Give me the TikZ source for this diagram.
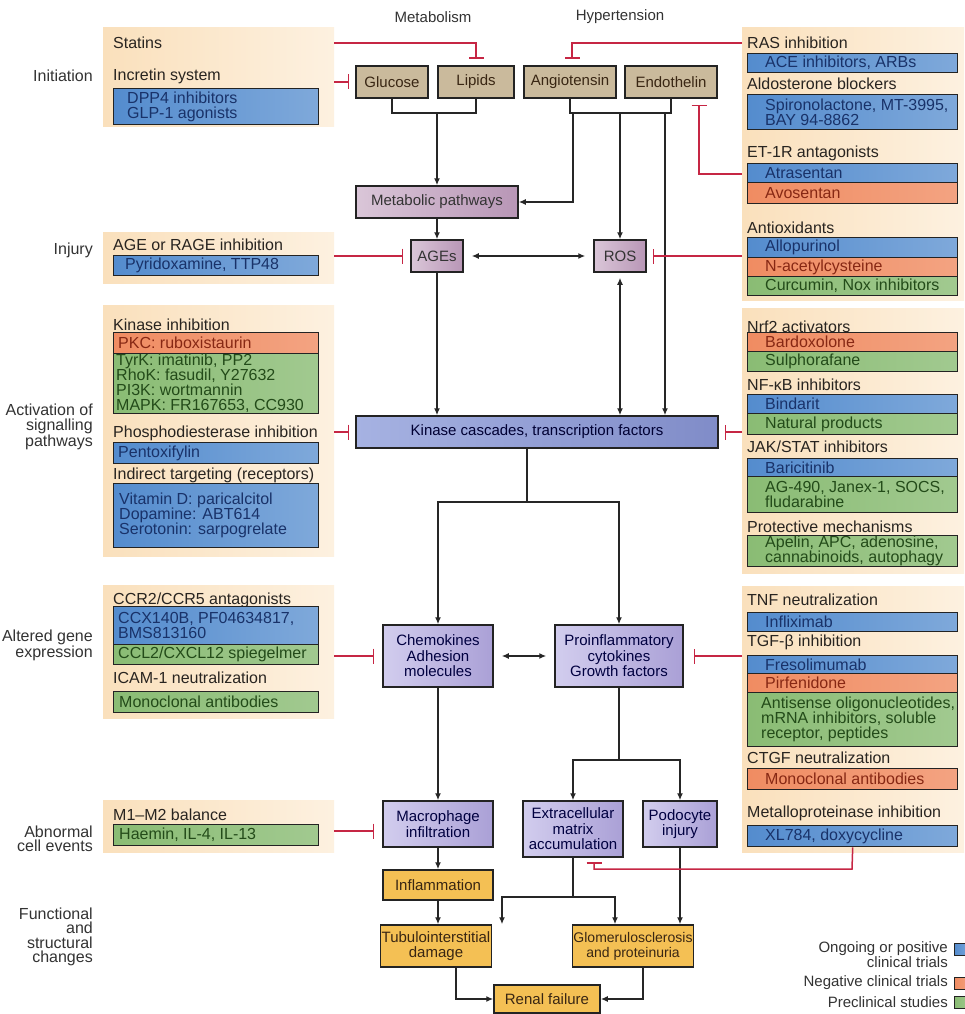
\documentclass[tikz,border=0pt]{standalone}
\usepackage{fontspec}
\setmainfont{Liberation Sans}
\usetikzlibrary{arrows.meta}
\definecolor{peachA}{RGB}{250,224,188}
\definecolor{peachB}{RGB}{253,241,224}
\definecolor{bdark}{RGB}{35,35,35}
\definecolor{blueL}{RGB}{176,208,240}
\definecolor{blueD}{RGB}{84,140,206}
\definecolor{blueT}{RGB}{25,50,105}
\definecolor{orL}{RGB}{252,208,182}
\definecolor{orD}{RGB}{240,140,98}
\definecolor{orT}{RGB}{135,40,20}
\definecolor{grL}{RGB}{200,226,182}
\definecolor{grD}{RGB}{138,188,116}
\definecolor{grT}{RGB}{35,75,25}
\definecolor{tanL}{RGB}{232,224,204}
\definecolor{tanD}{RGB}{202,186,156}
\definecolor{pinkL}{RGB}{218,198,216}
\definecolor{pinkD}{RGB}{184,150,182}
\definecolor{lavL}{RGB}{210,205,238}
\definecolor{lavD}{RGB}{170,160,214}
\definecolor{kinL}{RGB}{166,178,226}
\definecolor{kinD}{RGB}{128,140,200}
\definecolor{yelL}{RGB}{253,224,146}
\definecolor{yelD}{RGB}{244,192,84}
\definecolor{inh}{RGB}{198,38,68}
\definecolor{ttlc}{RGB}{40,36,32}
\newcommand\myfs{\fontsize{15}{15.5}\selectfont}
\newcommand\tfs{\fontsize{16}{15}\selectfont}
\newcommand\lfs{\fontsize{16}{14.5}\selectfont}
\newcommand\dbox[8]{%
  \node[bx#1, minimum width={#5-#3}, minimum height={#6-#4}, anchor=north west] (#2) at (#3,#4) {};
  \node[tx#1, anchor=west, align=left] (#2t) at ([xshift=#7]#2.west) {#8};}
\tikzset{
  every node/.style={font=\myfs},
  panel/.style={left color=peachA, right color=peachB, draw=none},
  bxbase/.style={draw=bdark, line width=1.4pt, inner sep=0pt},
  bxb/.style={bxbase, left color=blueD, middle color=blueL, right color=blueD!75!white},
  bxo/.style={bxbase, left color=orD, middle color=orL, right color=orD!80!white},
  bxg/.style={bxbase, left color=grD, middle color=grL, right color=grD!80!white},
  txb/.style={inner sep=0pt, text=blueT, font=\tfs},
  txo/.style={inner sep=0pt, text=orT, font=\tfs},
  txg/.style={inner sep=0pt, text=grT, font=\tfs},
  ttl/.style={inner sep=0pt, anchor=west, text=ttlc, font=\tfs},
  lab/.style={inner sep=0pt, anchor=east, align=right, text=black!80, font=\lfs},
  mbox/.style={draw=bdark, line width=1.5pt, align=center, inner sep=1pt},
  tanbox/.style={mbox, left color=tanD, middle color=tanL, right color=tanD, text=black!70!brown},
  pinkbox/.style={mbox, left color=pinkL, right color=pinkD, text=black!80},
  lavbox/.style={mbox, left color=lavL, right color=lavD, text=black!75!blue},
  kinbox/.style={mbox, left color=kinL, right color=kinD, text=black!80!blue},
  yelbox/.style={mbox, left color=yelD, middle color=yelL, right color=yelD, text=black!70!brown},
  cn/.style={draw=black!85, line width=1.5pt},
  cna/.style={cn, -{Latex[length=7pt,width=6pt]}},
  cnd/.style={cn, {Latex[length=7pt,width=6pt]}-{Latex[length=7pt,width=6pt]}},
  inhib/.style={draw=inh, line width=1.5pt, -{Bar[width=15pt]}},
}
\begin{document}
\begin{tikzpicture}[x=1pt,y=-1pt]
\fill[white] (0,0) rectangle (964,1014);
\path[use as bounding box] (0,0) rectangle (964,1014);

% ---------- background panels ----------
\fill[panel] (103,28) rectangle (334,127);
\fill[panel] (103,232) rectangle (334,283);
\fill[panel] (103,305) rectangle (334,556);
\fill[panel] (103,585) rectangle (334,718);
\fill[panel] (103,800) rectangle (334,852);
\fill[panel] (742,28) rectangle (964,300);
\fill[panel] (742,308) rectangle (964,573);
\fill[panel] (742,586) rectangle (964,852);

% ---------- stage labels ----------
\node[inner sep=0pt, text=black!80] (lmet) at (433,17) {Metabolism};
\node[inner sep=0pt, text=black!80] (lhyp) at (620,17) {Hypertension};
\node[lab] (lini) at (93,76) {Initiation};
\node[lab] (linj) at (93,250) {Injury};
\node[lab] (lact) at (93,427) {Activation of\\signalling\\pathways};
\node[lab] (lalt) at (93,645) {Altered gene\\expression};
\node[lab] (labn) at (93,839) {Abnormal\\cell events};
\node[lab] (lfun) at (93,937) {Functional\\and\\structural\\changes};

% ---------- left panels ----------
\node[ttl] (tstat) at (113,43) {Statins};
\node[ttl] (tincr) at (113,76) {Incretin system};
\dbox{b}{dpp}{113}{88}{318}{124}{14}{DPP4 inhibitors\\GLP-1 agonists}
\node[ttl] (tage) at (113,245) {AGE or RAGE inhibition};
\dbox{b}{pyr}{113}{255}{318}{275}{12}{Pyridoxamine, TTP48}
\node[ttl] (tkin) at (113,325) {Kinase inhibition};
\dbox{o}{pkc}{113}{332}{318}{353}{5}{PKC: ruboxistaurin}
\dbox{g}{tyrk}{113}{353}{318}{413}{3}{TyrK: imatinib, PP2\\RhoK: fasudil, Y27632\\PI3K: wortmannin\\MAPK: FR167653, CC930}
\node[ttl] (tpde) at (113,433) {Phosphodiesterase inhibition};
\dbox{b}{pen}{113}{442}{318}{463}{5}{Pentoxifylin}
\node[ttl] (tind) at (113,475) {Indirect targeting (receptors)};
\dbox{b}{vit}{113}{483}{318}{547}{6}{Vitamin D: paricalcitol\\Dopamine: ABT614\\Serotonin: sarpogrelate}
\node[ttl] (tccr) at (113,600) {CCR2/CCR5 antagonists};
\dbox{b}{ccx}{113}{606}{318}{644}{5}{CCX140B, PF04634817,\\BMS813160}
\dbox{g}{ccl}{113}{644}{318}{664}{5}{CCL2/CXCL12 spiegelmer}
\node[ttl] (ticam) at (113,678) {ICAM-1 neutralization};
\dbox{g}{mab1}{113}{691}{318}{712}{6}{Monoclonal antibodies}
\node[ttl] (tm1) at (113,815) {M1–M2 balance};
\dbox{g}{hae}{113}{824}{318}{845}{6}{Haemin, IL-4, IL-13}

% ---------- right panels ----------
\node[ttl] (tras) at (747,43) {RAS inhibition};
\dbox{b}{ace}{747}{53}{957}{72}{18}{ACE inhibitors, ARBs}
\node[ttl] (tald) at (747,84) {Aldosterone blockers};
\dbox{b}{spi}{747}{94}{957}{129}{18}{Spironolactone, MT-3995,\\BAY 94-8862}
\node[ttl] (tet) at (747,153) {ET-1R antagonists};
\dbox{b}{atr}{747}{163}{957}{182}{18}{Atrasentan}
\dbox{o}{avo}{747}{182}{957}{203}{18}{Avosentan}
\node[ttl] (tant) at (747,228) {Antioxidants};
\dbox{b}{all}{747}{237}{957}{257}{18}{Allopurinol}
\dbox{o}{nac}{747}{257}{957}{276}{18}{N-acetylcysteine}
\dbox{g}{cur}{747}{276}{957}{295}{18}{Curcumin, Nox inhibitors}
\node[ttl] (tnrf) at (747,327) {Nrf2 activators};
\dbox{o}{bar}{747}{332}{957}{351}{18}{Bardoxolone}
\dbox{g}{sul}{747}{351}{957}{371}{18}{Sulphorafane}
\node[ttl] (tnf) at (747,385) {NF-κB inhibitors};
\dbox{b}{bin}{747}{394}{957}{413}{18}{Bindarit}
\dbox{g}{nat}{747}{413}{957}{434}{18}{Natural products}
\node[ttl] (tjak) at (747,447) {JAK/STAT inhibitors};
\dbox{b}{bari}{747}{458}{957}{476}{18}{Baricitinib}
\dbox{g}{ag}{747}{476}{957}{512}{18}{AG-490, Janex-1, SOCS,\\fludarabine}
\node[ttl] (tpro) at (747,527) {Protective mechanisms};
\dbox{g}{ape}{747}{535}{957}{566}{18}{Apelin, APC, adenosine,\\cannabinoids, autophagy}
\node[ttl] (ttnf) at (747,600) {TNF neutralization};
\dbox{b}{inf}{747}{612}{957}{631}{18}{Infliximab}
\node[ttl] (ttgf) at (747,642) {TGF-β inhibition};
\dbox{b}{fre}{747}{655}{957}{673}{18}{Fresolimumab}
\dbox{o}{pir}{747}{673}{957}{692}{18}{Pirfenidone}
\dbox{g}{ant}{747}{692}{957}{746}{14}{Antisense oligonucleotides,\\mRNA inhibitors, soluble\\receptor, peptides}
\node[ttl] (tctgf) at (747,758) {CTGF neutralization};
\dbox{o}{mab2}{747}{768}{957}{789}{18}{Monoclonal antibodies}
\node[ttl] (tmmp) at (747,813) {Metalloproteinase inhibition};
\dbox{b}{xl}{747}{825}{957}{846}{18}{XL784, doxycycline}

% ---------- main flow nodes ----------
\node[tanbox, minimum width=72, minimum height=32] (glucose) at (392,82) {Glucose};
\node[tanbox, minimum width=76, minimum height=32] (lipids) at (476,82) {Lipids};
\node[tanbox, minimum width=92, minimum height=32] (angio) at (570,82) {Angiotensin};
\node[tanbox, minimum width=92, minimum height=32] (endo) at (671,82) {Endothelin};
\node[pinkbox, minimum width=162, minimum height=32] (metab) at (437,202) {Metabolic pathways};
\node[pinkbox, minimum width=52, minimum height=32] (ages) at (437,256) {AGEs};
\node[pinkbox, minimum width=52, minimum height=32] (ros) at (620,256) {ROS};
\node[kinbox, minimum width=362, minimum height=32] (kinase) at (537,432) {Kinase cascades, transcription factors};
\node[lavbox, minimum width=110, minimum height=62] (chemo) at (438,656) {Chemokines\\Adhesion\\molecules};
\node[lavbox, minimum width=128, minimum height=62] (proinf) at (619,656) {Proinflammatory\\cytokines\\Growth factors};
\node[lavbox, minimum width=110, minimum height=46] (macro) at (438,824) {Macrophage\\infiltration};
\node[lavbox, minimum width=100, minimum height=56] (ecm) at (573,829) {Extracellular\\matrix\\accumulation};
\node[lavbox, minimum width=74, minimum height=46] (podo) at (680,824) {Podocyte\\injury};
\node[yelbox, minimum width=110, minimum height=30] (infl) at (438,885) {Inflammation};
\node[yelbox, minimum width=110, minimum height=42] (tubulo) at (436,946) {Tubulointerstitial\\damage};
\node[yelbox, minimum width=112, minimum height=42, font=\fontsize{14}{15}\selectfont] (glom) at (633,946) {Glomerulosclerosis\\and proteinuria};
\node[yelbox, minimum width=106, minimum height=28] (renal) at (547,999) {Renal failure};

% ---------- black connectors ----------
\coordinate (jm) at (437,113);
\draw[cn] (glucose.south) |- (jm) -| (lipids.south);
\draw[cna] (jm) -- (metab.north);
\coordinate (jh) at (620,113);
\draw[cn] (angio.south) |- (jh) -| (endo.south);
\coordinate (ja) at (573,113);
\draw[cna] (ja) |- (metab.east);
\draw[cna] (jh) -- (ros.north);
\coordinate (je) at (665,113);
\draw[cna] (je) -- (je |- kinase.north);
\draw[cna] (metab.south) -- (metab.south |- ages.north);
\draw[cnd, shorten <=8pt, shorten >=8pt] (ages.east) -- (ros.west);
\draw[cna] (ages.south) -- (ages.south |- kinase.north);
\draw[cnd, shorten <=5pt] (ros.south) -- (ros.south |- kinase.north);
\coordinate (jk) at (527,502);
\draw[cn] (jk |- kinase.south) -- (jk);
\draw[cna] (jk) -| (chemo.north);
\draw[cna] (jk) -| (proinf.north);
\draw[cnd, shorten <=8pt, shorten >=8pt] (chemo.east) -- (proinf.west);
\draw[cna] (chemo.south) -- (macro.north);
\coordinate (jp) at (619,760);
\draw[cn] (proinf.south) -- (jp);
\draw[cna] (jp) -| (ecm.north);
\draw[cna] (jp) -| (podo.north);
\draw[cna] (macro.south) -- (infl.north);
\draw[cna] (infl.south) -- (infl.south |- tubulo.north);
\coordinate (jx) at (573,897);
\coordinate (jx1) at (502,897);
\coordinate (jx2) at (615,897);
\draw[cn] (ecm.south) -- (jx);
\draw[cna] (jx) -| (jx1 |- tubulo.north);
\draw[cna] (jx) -| (jx2 |- glom.north);
\draw[cna] (podo.south) -- (podo.south |- glom.north);
\draw[cna] ([xshift=20pt]tubulo.south) |- (renal.west);
\draw[cna] ([xshift=10pt]glom.south) |- (renal.east);

% ---------- inhibition connectors ----------
\coordinate (statE) at (334,43);
\coordinate (statT) at (476,59);
\draw[inhib] (statE) -| (statT);
\coordinate (incE) at (334,82);
\draw[inhib] (incE) -- ([xshift=-6pt]glucose.west);
\coordinate (rasW) at (742,43);
\coordinate (rasT) at (572,59);
\draw[inhib] (rasW) -| (rasT);
\coordinate (etW) at (742,174);
\coordinate (etT) at (699,105);
\draw[inhib] (etW) -| (etT);
\coordinate (ageE) at (334,256);
\draw[inhib] (ageE) -- ([xshift=-7pt]ages.west);
\coordinate (antW) at (742,256);
\draw[inhib] (antW) -- ([xshift=6pt]ros.east);
\coordinate (kinE) at (334,432);
\draw[inhib] (kinE) -- ([xshift=-6pt]kinase.west);
\coordinate (nfW) at (742,432);
\draw[inhib] (nfW) -- ([xshift=6pt]kinase.east);
\coordinate (ccrE) at (334,656);
\draw[inhib] (ccrE) -- ([xshift=-8pt]chemo.west);
\coordinate (tgfW) at (742,656);
\draw[inhib] (tgfW) -- ([xshift=10pt]proinf.east);
\coordinate (m1E) at (334,831);
\draw[inhib] (m1E) -- ([xshift=-8pt,yshift=-7pt]macro.west);
\coordinate (mpC) at (852,869);
\coordinate (mpT) at (594,862);
\draw[inhib] (xl.south) -- (mpC) -| (mpT);

% ---------- legend ----------
\node[lab, font=\fontsize{15}{13.5}\selectfont] (lg1) at (948,955) {Ongoing or positive\\clinical trials};
\node[lab, font=\fontsize{15}{14}\selectfont] (lg2) at (948,983) {Negative clinical trials};
\node[lab, font=\fontsize{15}{14}\selectfont] (lg3) at (948,1002) {Preclinical studies};
\node[bxb, minimum width=16, minimum height=12, anchor=north west] (sq1) at (954,943) {};
\node[bxo, minimum width=16, minimum height=12, anchor=north west] (sq2) at (954,977) {};
\node[bxg, minimum width=16, minimum height=12, anchor=north west] (sq3) at (954,996) {};
\end{tikzpicture}
\end{document}
